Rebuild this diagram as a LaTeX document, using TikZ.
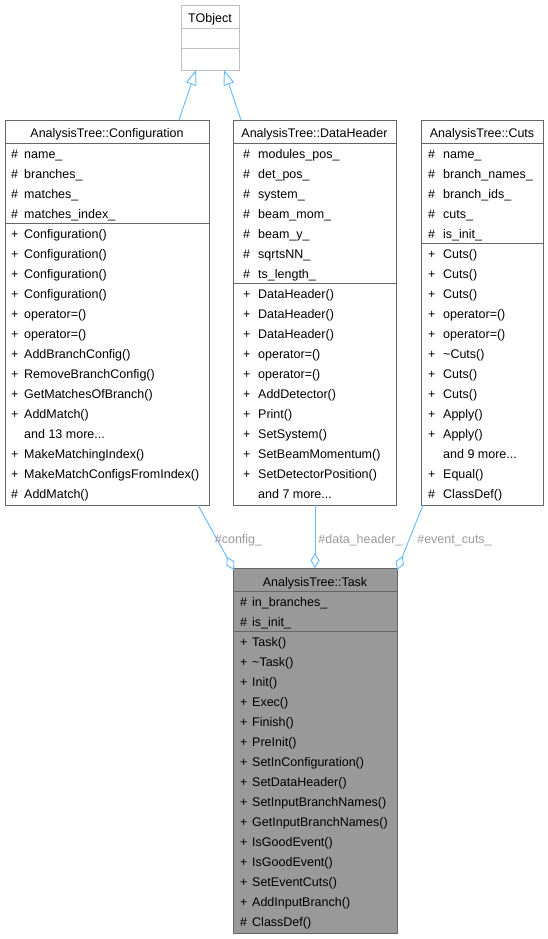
\documentclass[tikz,border=0pt]{standalone}
\usepackage{fontspec}
\setmainfont{Liberation Sans}
\usetikzlibrary{arrows.meta}
\definecolor{boxgray}{HTML}{666666}
\definecolor{lightbox}{HTML}{BFBFBF}
\definecolor{taskfill}{HTML}{999999}
\definecolor{edgeblue}{HTML}{63B8FF}
\definecolor{lblgray}{HTML}{9A9A9A}
\newcommand\fs{\fontsize{12.5}{14}\selectfont}
\newcommand\mrow[7]{\node[rowtxt] (#1s) at (#2,{#4+20*#5}) {#6}; \node[rowtxt] (#1t) at (#3,{#4+20*#5}) {#7};}
\newcommand\mmore[5]{\node[rowtxt] (#1) at (#2,{#3+20*#4}) {#5};}
\tikzset{
  umlbox/.style={draw=boxgray, line width=0.9pt, fill=white, inner sep=0pt, anchor=north west},
  divline/.style={draw=boxgray, line width=0.9pt},
  rowtxt/.style={anchor=base west, inner sep=0pt, font=\fs},
  titletxt/.style={anchor=base, inner sep=0pt, font=\fs},
  lbl/.style={anchor=base, inner sep=0pt, font=\fs, text=lblgray},
  inh/.style={draw=edgeblue, line width=0.9pt, -{Triangle[open, length=15pt, width=11pt]}},
  agg/.style={draw=edgeblue, line width=0.9pt, -{Diamond[fill=white, length=15pt, width=9pt]}},
}
\begin{document}
\begin{tikzpicture}[x=1pt, y=-1pt]
\useasboundingbox[fill=white] (0,0) rectangle (548,939);

% ---------- TObject ----------
\node[umlbox, draw=lightbox, minimum width=58pt, minimum height=65pt] (tobj) at (181,5) {};
\draw[draw=lightbox, line width=0.9pt] (181,28) -- (239,28) (181,48) -- (239,48);
\node[titletxt] (tobjtitle) at (210,22.5) {TObject};

% ---------- Configuration ----------
\node[umlbox, minimum width=204pt, minimum height=385pt] (cfg) at (5,120) {};
\draw[divline] (5,143) -- (209,143) (5,223) -- (209,223);
\node[titletxt] (cfgtitle) at (107,137.5) {AnalysisTree::Configuration};
\mrow{ca0}{11}{24}{158.5}{0}{\#}{name\_}
\mrow{ca1}{11}{24}{158.5}{1}{\#}{branches\_}
\mrow{ca2}{11}{24}{158.5}{2}{\#}{matches\_}
\mrow{ca3}{11}{24}{158.5}{3}{\#}{matches\_index\_}
\mrow{cm0}{11}{24}{238.5}{0}{+}{Configuration()}
\mrow{cm1}{11}{24}{238.5}{1}{+}{Configuration()}
\mrow{cm2}{11}{24}{238.5}{2}{+}{Configuration()}
\mrow{cm3}{11}{24}{238.5}{3}{+}{Configuration()}
\mrow{cm4}{11}{24}{238.5}{4}{+}{operator=()}
\mrow{cm5}{11}{24}{238.5}{5}{+}{operator=()}
\mrow{cm6}{11}{24}{238.5}{6}{+}{AddBranchConfig()}
\mrow{cm7}{11}{24}{238.5}{7}{+}{RemoveBranchConfig()}
\mrow{cm8}{11}{24}{238.5}{8}{+}{GetMatchesOfBranch()}
\mrow{cm9}{11}{24}{238.5}{9}{+}{AddMatch()}
\mmore{cm10}{24}{238.5}{10}{and 13 more...}
\mrow{cm11}{11}{24}{238.5}{11}{+}{MakeMatchingIndex()}
\mrow{cm12}{11}{24}{238.5}{12}{+}{MakeMatchConfigsFromIndex()}
\mrow{cm13}{11}{24}{238.5}{13}{\#}{AddMatch()}

% ---------- DataHeader ----------
\node[umlbox, minimum width=163pt, minimum height=385pt] (dh) at (233,120) {};
\draw[divline] (233,143) -- (396,143) (233,283) -- (396,283);
\node[titletxt] (dhtitle) at (314.5,137.5) {AnalysisTree::DataHeader};
\mrow{da0}{243}{258}{158.5}{0}{\#}{modules\_pos\_}
\mrow{da1}{243}{258}{158.5}{1}{\#}{det\_pos\_}
\mrow{da2}{243}{258}{158.5}{2}{\#}{system\_}
\mrow{da3}{243}{258}{158.5}{3}{\#}{beam\_mom\_}
\mrow{da4}{243}{258}{158.5}{4}{\#}{beam\_y\_}
\mrow{da5}{243}{258}{158.5}{5}{\#}{sqrtsNN\_}
\mrow{da6}{243}{258}{158.5}{6}{\#}{ts\_length\_}
\mrow{dm0}{243}{258}{298.5}{0}{+}{DataHeader()}
\mrow{dm1}{243}{258}{298.5}{1}{+}{DataHeader()}
\mrow{dm2}{243}{258}{298.5}{2}{+}{DataHeader()}
\mrow{dm3}{243}{258}{298.5}{3}{+}{operator=()}
\mrow{dm4}{243}{258}{298.5}{4}{+}{operator=()}
\mrow{dm5}{243}{258}{298.5}{5}{+}{AddDetector()}
\mrow{dm6}{243}{258}{298.5}{6}{+}{Print()}
\mrow{dm7}{243}{258}{298.5}{7}{+}{SetSystem()}
\mrow{dm8}{243}{258}{298.5}{8}{+}{SetBeamMomentum()}
\mrow{dm9}{243}{258}{298.5}{9}{+}{SetDetectorPosition()}
\mmore{dm10}{258}{298.5}{10}{and 7 more...}

% ---------- Cuts ----------
\node[umlbox, minimum width=122pt, minimum height=385pt] (cuts) at (421,120) {};
\draw[divline] (421,143) -- (543,143) (421,243) -- (543,243);
\node[titletxt] (cutstitle) at (482,137.5) {AnalysisTree::Cuts};
\mrow{ua0}{428}{443}{158.5}{0}{\#}{name\_}
\mrow{ua1}{428}{443}{158.5}{1}{\#}{branch\_names\_}
\mrow{ua2}{428}{443}{158.5}{2}{\#}{branch\_ids\_}
\mrow{ua3}{428}{443}{158.5}{3}{\#}{cuts\_}
\mrow{ua4}{428}{443}{158.5}{4}{\#}{is\_init\_}
\mrow{um0}{428}{443}{258.5}{0}{+}{Cuts()}
\mrow{um1}{428}{443}{258.5}{1}{+}{Cuts()}
\mrow{um2}{428}{443}{258.5}{2}{+}{Cuts()}
\mrow{um3}{428}{443}{258.5}{3}{+}{operator=()}
\mrow{um4}{428}{443}{258.5}{4}{+}{operator=()}
\mrow{um5}{428}{443}{258.5}{5}{+}{\textasciitilde Cuts()}
\mrow{um6}{428}{443}{258.5}{6}{+}{Cuts()}
\mrow{um7}{428}{443}{258.5}{7}{+}{Cuts()}
\mrow{um8}{428}{443}{258.5}{8}{+}{Apply()}
\mrow{um9}{428}{443}{258.5}{9}{+}{Apply()}
\mmore{um10}{443}{258.5}{10}{and 9 more...}
\mrow{um11}{428}{443}{258.5}{11}{+}{Equal()}
\mrow{um12}{428}{443}{258.5}{12}{\#}{ClassDef()}

% ---------- Task ----------
\node[umlbox, fill=taskfill, minimum width=164pt, minimum height=365pt] (task) at (233,568) {};
\draw[divline] (233,591) -- (397,591) (233,631) -- (397,631);
\node[titletxt] (tasktitle) at (315,586.5) {AnalysisTree::Task};
\mrow{ta0}{240}{252}{606.5}{0}{\#}{in\_branches\_}
\mrow{ta1}{240}{252}{606.5}{1}{\#}{is\_init\_}
\mrow{tm0}{240}{252}{646.5}{0}{+}{Task()}
\mrow{tm1}{240}{252}{646.5}{1}{+}{\textasciitilde Task()}
\mrow{tm2}{240}{252}{646.5}{2}{+}{Init()}
\mrow{tm3}{240}{252}{646.5}{3}{+}{Exec()}
\mrow{tm4}{240}{252}{646.5}{4}{+}{Finish()}
\mrow{tm5}{240}{252}{646.5}{5}{+}{PreInit()}
\mrow{tm6}{240}{252}{646.5}{6}{+}{SetInConfiguration()}
\mrow{tm7}{240}{252}{646.5}{7}{+}{SetDataHeader()}
\mrow{tm8}{240}{252}{646.5}{8}{+}{SetInputBranchNames()}
\mrow{tm9}{240}{252}{646.5}{9}{+}{GetInputBranchNames()}
\mrow{tm10}{240}{252}{646.5}{10}{+}{IsGoodEvent()}
\mrow{tm11}{240}{252}{646.5}{11}{+}{IsGoodEvent()}
\mrow{tm12}{240}{252}{646.5}{12}{+}{SetEventCuts()}
\mrow{tm13}{240}{252}{646.5}{13}{+}{AddInputBranch()}
\mrow{tm14}{240}{252}{646.5}{14}{\#}{ClassDef()}

% ---------- connectors ----------
\coordinate (cfgup) at (179,120);
\coordinate (tobjL) at (196,70);
\coordinate (dhup) at (241,120);
\coordinate (tobjR) at (224,70);
\draw[inh] (cfgup) -- (tobjL);
\draw[inh] (dhup) -- (tobjR);

\coordinate (cfgdn) at (198,505);
\coordinate (taskL) at (234,570);
\coordinate (dhdn) at (315,505);
\coordinate (taskM) at (315,568);
\coordinate (cutsdn) at (423,505);
\coordinate (taskR) at (397,570);
\draw[agg] (cfgdn) -- (taskL);
\draw[agg] (dhdn) -- (taskM);
\draw[agg] (cutsdn) -- (taskR);

\node[lbl] (lcfg) at (238.5,543) {\#config\_};
\node[lbl] (ldh) at (360.5,543) {\#data\_header\_};
\node[lbl] (lcuts) at (454.5,543) {\#event\_cuts\_};
\end{tikzpicture}
\end{document}
